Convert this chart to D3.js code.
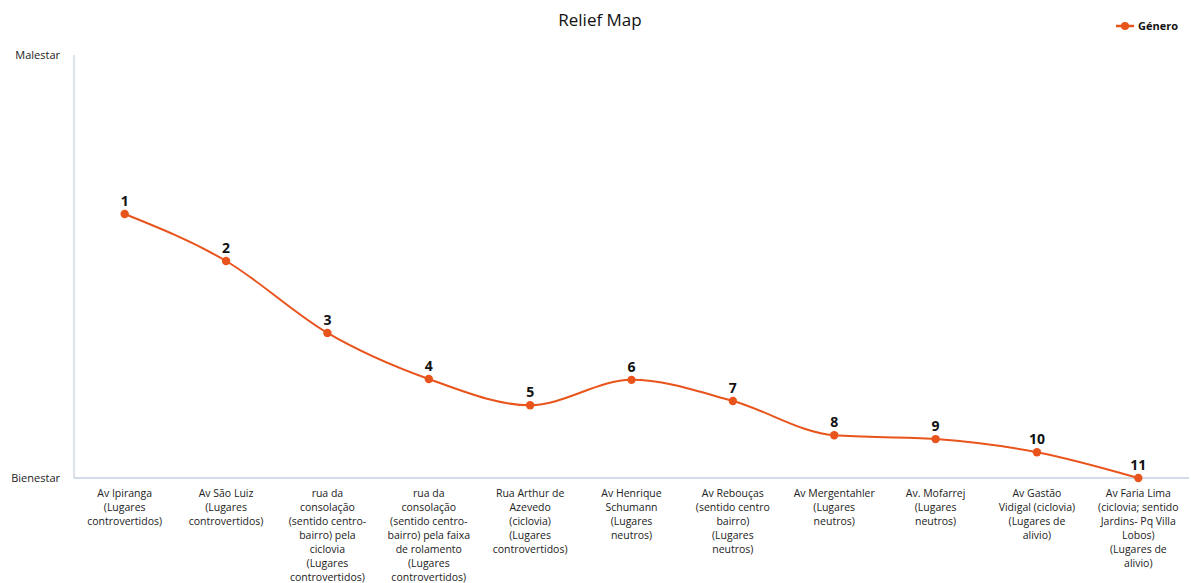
<!DOCTYPE html>
<html><head><meta charset="utf-8">
<script src="https://cdn.jsdelivr.net/npm/d3@7"></script>
<style>body{margin:0;background:#fff}svg{display:block}</style>
</head><body><svg id="c" width="1191" height="583"></svg>
<script>
const categories = [
  "Av Ipiranga (Lugares controvertidos)",
  "Av São Luiz (Lugares controvertidos)",
  "rua da consolação (sentido centro-bairro) pela ciclovia (Lugares controvertidos)",
  "rua da consolação (sentido centro-bairro) pela faixa de rolamento (Lugares controvertidos)",
  "Rua Arthur de Azevedo (ciclovia) (Lugares controvertidos)",
  "Av Henrique Schumann (Lugares neutros)",
  "Av Rebouças (sentido centro bairro) (Lugares neutros)",
  "Av Mergentahler (Lugares neutros)",
  "Av. Mofarrej (Lugares neutros)",
  "Av Gastão Vidigal (ciclovia) (Lugares de alivio)",
  "Av Faria Lima (ciclovia; sentido Jardins- Pq Villa Lobos) (Lugares de alivio)"
];
const labelLines = [
  ["Av Ipiranga","(Lugares","controvertidos)"],
  ["Av São Luiz","(Lugares","controvertidos)"],
  ["rua da","consolação","(sentido centro-","bairro) pela","ciclovia","(Lugares","controvertidos)"],
  ["rua da","consolação","(sentido centro-","bairro) pela faixa","de rolamento","(Lugares","controvertidos)"],
  ["Rua Arthur de","Azevedo","(ciclovia)","(Lugares","controvertidos)"],
  ["Av Henrique","Schumann","(Lugares","neutros)"],
  ["Av Rebouças","(sentido centro","bairro)","(Lugares","neutros)"],
  ["Av Mergentahler","(Lugares","neutros)"],
  ["Av. Mofarrej","(Lugares","neutros)"],
  ["Av Gastão","Vidigal (ciclovia)","(Lugares de","alivio)"],
  ["Av Faria Lima","(ciclovia; sentido","Jardins- Pq Villa","Lobos)","(Lugares de","alivio)"]
];
const pointLabels = ["1","2","3","4","5","6","7","8","9","10","11"];
const values = [6.24, 5.13, 3.43, 2.34, 1.72, 2.32, 1.82, 1.01, 0.92, 0.61, 0.0];
const yTickLabels = ["Bienestar","Malestar"];
const seriesName = "Género";
const yMax = 10;

const color = "#e8541c";
const font = "'Open Sans', 'Noto Sans', sans-serif";
const svg = d3.select("#c");
const mLeft = 74, mRight = 1189, mTop = 55, mBottom = 478;

const x = d3.scaleBand().domain(categories).range([mLeft, mRight]);
const y = d3.scaleLinear().domain([0, yMax]).range([mBottom, mTop]);

// axes lines
svg.append("line").attr("x1", mLeft).attr("x2", mLeft).attr("y1", mTop).attr("y2", mBottom)
  .attr("stroke", "#d3d9e3").attr("stroke-width", 1.5);
svg.append("line").attr("x1", mLeft).attr("x2", mRight).attr("y1", mBottom).attr("y2", mBottom)
  .attr("stroke", "#c5cfe0").attr("stroke-width", 1.5);

// y tick labels
svg.selectAll("text.ytick").data(yTickLabels).enter().append("text")
  .attr("class","ytick")
  .attr("x", 60).attr("y", (d,i) => y(i*yMax) + 4)
  .attr("text-anchor","end")
  .attr("font-family", font).attr("font-size", 11).attr("fill", "#222")
  .text(d => d);

// x tick labels
const xl = svg.selectAll("text.xl").data(categories).enter().append("text")
  .attr("class","xl")
  .attr("x", d => x(d) + x.bandwidth()/2)
  .attr("y", 497)
  .attr("text-anchor","middle")
  .attr("font-family", font).attr("font-size", 10.5).attr("fill", "#222");
xl.each(function(d,i){
  const t = d3.select(this);
  labelLines[i].forEach((ln,j)=>{
    t.append("tspan").attr("x", x(d)+x.bandwidth()/2).attr("dy", j===0?0:14).text(ln);
  });
});

// line
const line = d3.line()
  .x((d,i) => x(categories[i]) + x.bandwidth()/2)
  .y(d => y(d))
  .curve(d3.curveMonotoneX);
svg.append("path").datum(values).attr("d", line)
  .attr("fill","none").attr("stroke", color).attr("stroke-width", 2);

svg.selectAll("circle.pt").data(values).enter().append("circle")
  .attr("class","pt")
  .attr("cx", (d,i) => x(categories[i]) + x.bandwidth()/2)
  .attr("cy", d => y(d)).attr("r", 4.2).attr("fill", color);

svg.selectAll("text.pl").data(values).enter().append("text")
  .attr("class","pl")
  .attr("x", (d,i) => x(categories[i]) + x.bandwidth()/2)
  .attr("y", d => y(d) - 8)
  .attr("text-anchor","middle")
  .attr("font-family", font).attr("font-size", 14).attr("font-weight","bold").attr("fill","#111")
  .text((d,i) => pointLabels[i]);

// title
svg.append("text").attr("x", 600).attr("y", 26).attr("text-anchor","middle")
  .attr("font-family", font).attr("font-size", 17).attr("fill","#111").text("Relief Map");

// legend
svg.append("line").attr("x1", 1116).attr("x2", 1134).attr("y1", 26).attr("y2", 26)
  .attr("stroke", color).attr("stroke-width", 2.5);
svg.append("circle").attr("cx", 1125).attr("cy", 26).attr("r", 4).attr("fill", color);
svg.append("text").attr("x", 1138).attr("y", 30).attr("font-family", font)
  .attr("font-size", 11).attr("font-weight","bold").attr("fill","#111").text(seriesName);
</script></body></html>
